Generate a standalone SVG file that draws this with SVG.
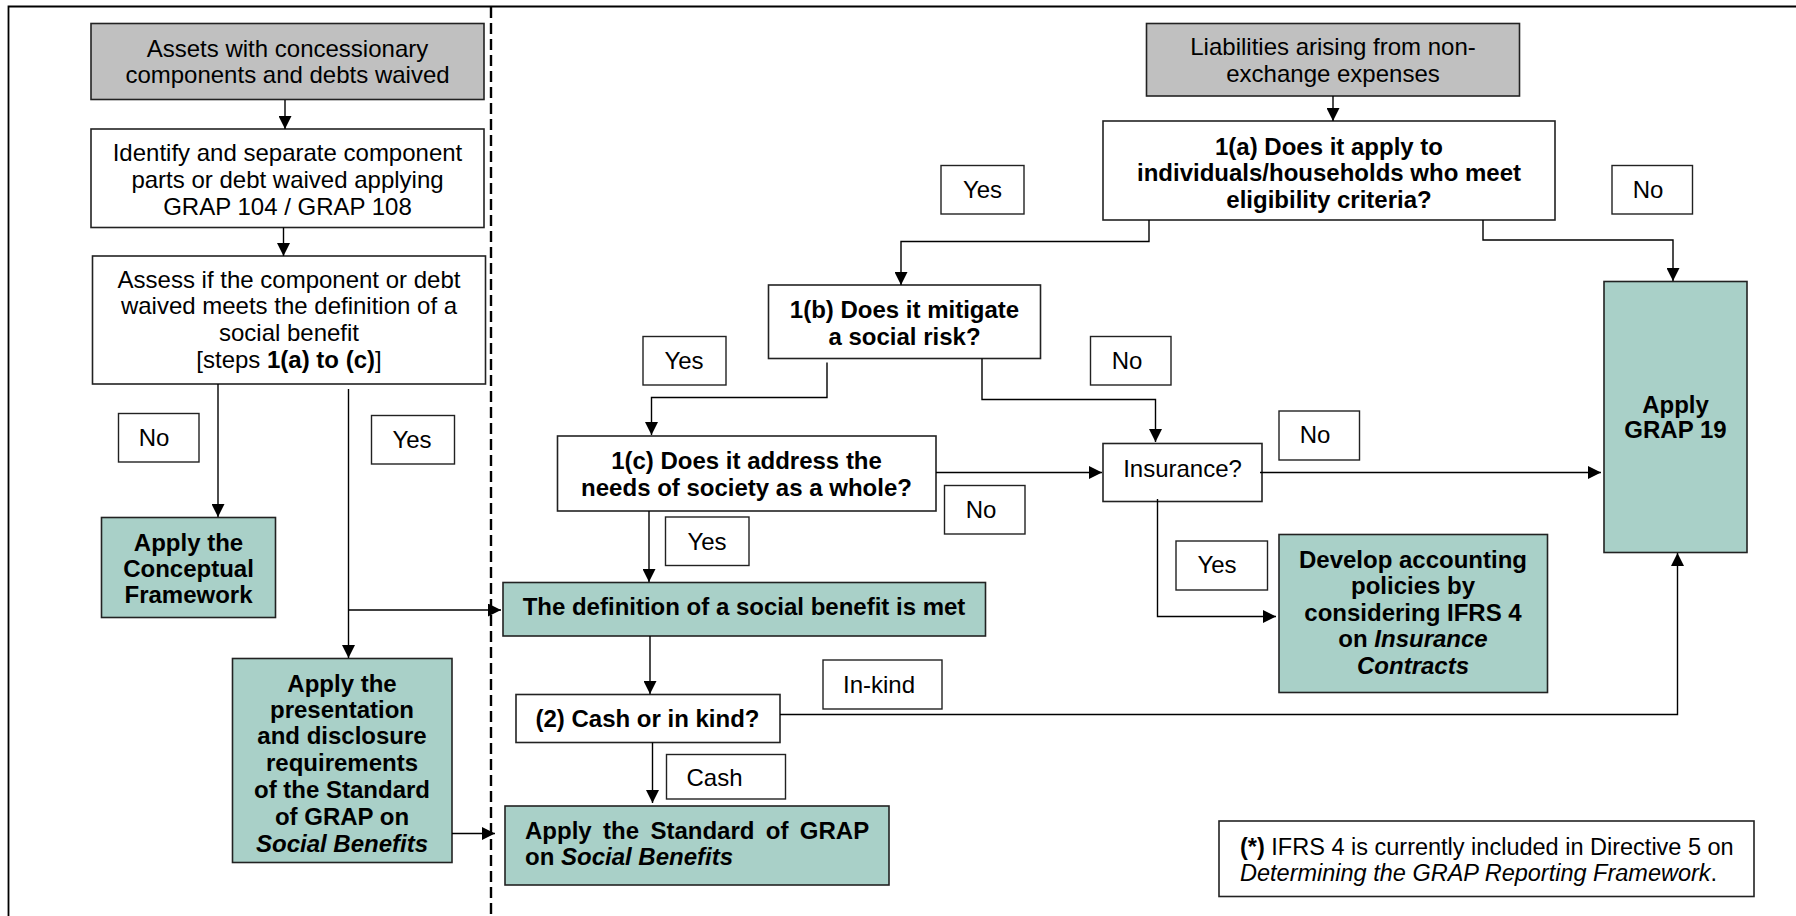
<svg xmlns="http://www.w3.org/2000/svg" width="1796" height="916" viewBox="0 0 1796 916">
<style>
text{font-family:"Liberation Sans",Arial,sans-serif;font-size:24px;fill:#000}
.c{text-anchor:middle}
.b{font-weight:bold}
.i{font-style:italic}
.fn{font-size:23.5px}
.box{fill:#fff;stroke:#222;stroke-width:1.6}
.grey{fill:#c0c0c0;stroke:#222;stroke-width:1.6}
.teal{fill:#a9d0c8;stroke:#222;stroke-width:1.6}
.lbl{fill:#fff;stroke:#222;stroke-width:1.4}
.conn path{fill:none;stroke:#000;stroke-width:1.4;marker-end:url(#ah)}
</style>
<defs>
<marker id="ah" markerUnits="userSpaceOnUse" markerWidth="14" markerHeight="13" refX="13" refY="6.5" orient="auto">
<path d="M0,0 L13,6.5 L0,13 z" fill="#000"/>
</marker>
</defs>
<rect width="1796" height="916" fill="#fff"/>
<path d="M8.5 916 V6.5 H1796" fill="none" stroke="#000" stroke-width="1.8"/>
<path d="M491 7 V916" fill="none" stroke="#000" stroke-width="2.4" stroke-dasharray="11 5"/>

<g id="assets"><rect class="grey" x="91" y="23.5" width="393" height="76"/>
<text class="c" x="287.5" y="56.5">Assets with concessionary</text>
<text class="c" x="287.5" y="82.5">components and debts waived</text></g>

<g id="identify"><rect class="box" x="91" y="129" width="393" height="98.5"/>
<text class="c" x="287.5" y="161">Identify and separate component</text>
<text class="c" x="287.5" y="188">parts or debt waived applying</text>
<text class="c" x="287.5" y="214.5">GRAP 104 / GRAP 108</text></g>

<g id="assess"><rect class="box" x="92.5" y="256" width="393" height="128"/>
<text class="c" x="289" y="288">Assess if the component or debt</text>
<text class="c" x="289" y="314">waived meets the definition of a</text>
<text class="c" x="289" y="341">social benefit</text>
<text class="c" x="289" y="368">[steps <tspan class="b">1(a) to (c)</tspan>]</text></g>

<g id="lbl-no-left"><rect class="lbl" x="118.5" y="413.5" width="80.5" height="48.5"/>
<text class="c" x="154" y="446">No</text></g>
<g id="lbl-yes-left"><rect class="lbl" x="371.5" y="415.5" width="83" height="48.5"/>
<text class="c" x="412" y="448">Yes</text></g>

<g id="conceptual"><rect class="teal" x="101.5" y="517.5" width="174" height="100"/>
<text class="c b" x="188.5" y="550.5">Apply the</text>
<text class="c b" x="188.5" y="577">Conceptual</text>
<text class="c b" x="188.5" y="603">Framework</text></g>

<g id="presentation"><rect class="teal" x="232.5" y="658.5" width="219.5" height="204"/>
<text class="c b" x="342" y="691.5">Apply the</text>
<text class="c b" x="342" y="718">presentation</text>
<text class="c b" x="342" y="744">and disclosure</text>
<text class="c b" x="342" y="771">requirements</text>
<text class="c b" x="342" y="797.5">of the Standard</text>
<text class="c b" x="342" y="825">of GRAP on</text>
<text class="c b i" x="342" y="851.5">Social Benefits</text></g>

<g id="liabilities"><rect class="grey" x="1146.5" y="23.5" width="373" height="72.5"/>
<text class="c" x="1333" y="55">Liabilities arising from non-</text>
<text class="c" x="1333" y="82">exchange expenses</text></g>

<g id="q1a"><rect class="box" x="1103" y="121" width="452" height="99"/>
<text class="c b" x="1329" y="155">1(a) Does it apply to</text>
<text class="c b" x="1329" y="181">individuals/households who meet</text>
<text class="c b" x="1329" y="207.5">eligibility criteria?</text></g>

<g id="lbl-yes-1a"><rect class="lbl" x="941" y="165.5" width="83" height="48.5"/>
<text class="c" x="982.5" y="198">Yes</text></g>
<g id="lbl-no-1a"><rect class="lbl" x="1612" y="165.5" width="80.5" height="48.5"/>
<text class="c" x="1648" y="198">No</text></g>

<g id="q1b"><rect class="box" x="768.5" y="285" width="272" height="73.5"/>
<text class="c b" x="904.5" y="317.5">1(b) Does it mitigate</text>
<text class="c b" x="904.5" y="345">a social risk?</text></g>

<g id="lbl-yes-1b"><rect class="lbl" x="643" y="336.5" width="83" height="48.5"/>
<text class="c" x="684" y="369">Yes</text></g>
<g id="lbl-no-1b"><rect class="lbl" x="1090.5" y="336.5" width="80.5" height="48.5"/>
<text class="c" x="1127" y="369">No</text></g>

<g id="grap19"><rect class="teal" x="1604" y="281.5" width="143" height="271"/>
<text class="c b" x="1675.5" y="413">Apply</text>
<text class="c b" x="1675.5" y="437.5">GRAP 19</text></g>

<g id="q1c"><rect class="box" x="557.5" y="436" width="378.5" height="75"/>
<text class="c b" x="746.5" y="469">1(c) Does it address the</text>
<text class="c b" x="746.5" y="496">needs of society as a whole?</text></g>

<g id="lbl-no-1c"><rect class="lbl" x="944.5" y="485.5" width="80.5" height="48.5"/>
<text class="c" x="981" y="518">No</text></g>

<g id="insurance"><rect class="box" x="1103" y="443.5" width="159" height="58"/>
<text class="c" x="1182.5" y="476.5">Insurance?</text></g>

<g id="lbl-no-ins"><rect class="lbl" x="1279" y="411" width="80.5" height="49"/>
<text class="c" x="1315" y="443">No</text></g>

<g id="lbl-yes-1c"><rect class="lbl" x="665.5" y="517" width="83.5" height="48.5"/>
<text class="c" x="707" y="549.5">Yes</text></g>

<g id="lbl-yes-ins"><rect class="lbl" x="1176" y="541" width="91.5" height="49"/>
<text class="c" x="1217" y="573">Yes</text></g>

<g id="develop"><rect class="teal" x="1279" y="534.5" width="268.5" height="158"/>
<text class="c b" x="1413" y="567.5">Develop accounting</text>
<text class="c b" x="1413" y="594">policies by</text>
<text class="c b" x="1413" y="621">considering IFRS 4</text>
<text class="c b" x="1413" y="647">on <tspan class="i">Insurance</tspan></text>
<text class="c b i" x="1413" y="674">Contracts</text></g>

<g id="definition"><rect class="teal" x="503" y="582.5" width="482.5" height="53.5"/>
<text class="c b" x="744" y="615">The definition of a social benefit is met</text></g>

<g id="lbl-inkind"><rect class="lbl" x="823" y="660" width="119" height="49"/>
<text class="c" x="879" y="692.5">In-kind</text></g>

<g id="q2"><rect class="box" x="516" y="694.5" width="264" height="48"/>
<text class="c b" x="647.5" y="726.5">(2) Cash or in kind?</text></g>

<g id="lbl-cash"><rect class="lbl" x="666.5" y="754.5" width="119" height="44.5"/>
<text class="c" x="714.5" y="786">Cash</text></g>

<g id="standard"><rect class="teal" x="505" y="806" width="384" height="79"/>
<text class="b" x="525" y="838.5" word-spacing="4.7">Apply the Standard of GRAP</text>
<text class="b" x="525" y="865">on <tspan class="i">Social Benefits</tspan></text></g>

<g id="footnote"><rect class="box" x="1219" y="821" width="535" height="75.5"/>
<text class="fn" x="1240" y="855"><tspan class="b">(*)</tspan> IFRS 4 is currently included in Directive 5 on</text>
<text class="fn" x="1240" y="881"><tspan class="i">Determining the GRAP Reporting Framework</tspan>.</text></g>

<g id="connectors" class="conn">
<path d="M285 100 V129"/>
<path d="M283.5 227.5 V256"/>
<path d="M218 384 V517"/>
<path d="M348.5 389 V658"/>
<path d="M348.5 610 H501"/>
<path d="M452 833.5 H495"/>
<path d="M1333 96 V121"/>
<path d="M1149 220 V241.5 H901 V285"/>
<path d="M1483 220 V240 H1673 V281"/>
<path d="M827 362.5 V397.5 H651.5 V435"/>
<path d="M982 358.5 V399.5 H1155.5 V442"/>
<path d="M936 472.5 H1102"/>
<path d="M649 511 V582"/>
<path d="M1260 472.5 H1601"/>
<path d="M1157.5 499 V616.5 H1276"/>
<path d="M650 636 V694"/>
<path d="M780 714.5 H1677.5 V553"/>
<path d="M652.5 742.5 V803"/>
</g>
</svg>
